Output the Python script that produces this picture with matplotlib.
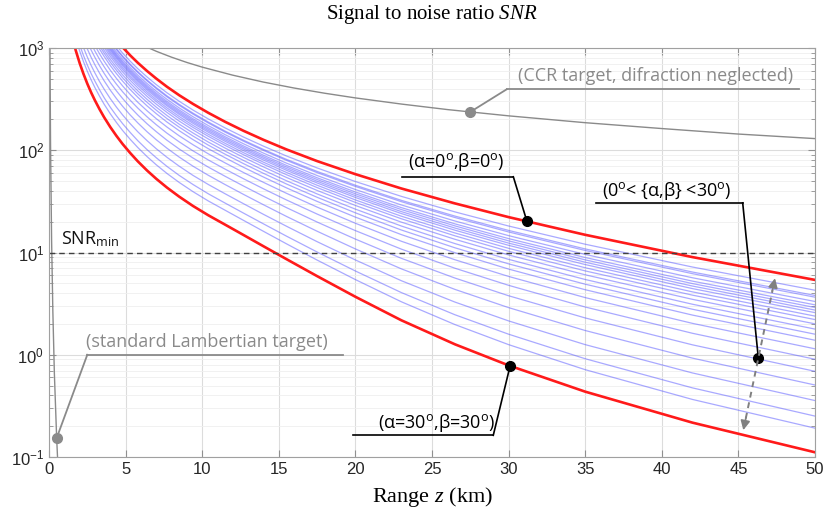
import matplotlib.pyplot as plt
import numpy as np

plt.rcParams['mathtext.fontset'] = 'custom'
plt.rcParams['mathtext.it'] = 'Liberation Serif:italic'
plt.rcParams['mathtext.rm'] = 'Liberation Serif'

# range samples (km)
red_z = [1.5, 1.75, 2, 2.25, 2.5, 2.75, 3, 3.3, 3.6, 4, 4.4, 4.8, 5.3, 5.8, 6.4, 7,
         7.7, 8.5, 9.4, 10.4, 11.5, 12.7, 14, 15.5, 17.5, 20, 23, 26.5, 30, 35, 42, 50]
blue_z = red_z[1:]

# red limit curves, read in decades (log10 SNR)
red_top_log = [3.915, 3.797, 3.694, 3.603, 3.522, 3.448, 3.380, 3.305, 3.237, 3.153,
               3.078, 3.008, 2.928, 2.855, 2.775, 2.701, 2.621, 2.538, 2.453, 2.366,
               2.278, 2.190, 2.102, 2.008, 1.894, 1.766, 1.626, 1.480, 1.346, 1.173,
               0.955, 0.732]
red_bot_log = [3.113, 2.974, 2.853, 2.747, 2.651, 2.565, 2.487, 2.401, 2.322, 2.227,
               2.141, 2.062, 1.973, 1.891, 1.802, 1.721, 1.635, 1.546, 1.455, 1.364,
               1.272, 1.171, 1.061, 0.935, 0.769, 0.567, 0.337, 0.102, -0.104, -0.361,
               -0.664, -0.954]

# 0 < {alpha, beta} < 30 deg, log10 SNR; each row ends at 50 km and starts
# at the last sample above the top of the plot
blue_log = [
    [3.022, 2.951, 2.871, 2.797, 2.717, 2.642, 2.562, 2.479, 2.393, 2.306, 2.218, 2.129,
     2.040, 1.944, 1.827, 1.694, 1.549, 1.397, 1.259, 1.081, 0.858, 0.631],
    [3.070, 2.994, 2.923, 2.842, 2.768, 2.687, 2.613, 2.532, 2.449, 2.363, 2.276, 2.187,
     2.098, 2.008, 1.911, 1.793, 1.658, 1.510, 1.356, 1.216, 1.035, 0.809, 0.580],
    [3.060, 2.984, 2.913, 2.832, 2.759, 2.678, 2.603, 2.522, 2.439, 2.353, 2.266, 2.177,
     2.088, 1.998, 1.901, 1.781, 1.646, 1.497, 1.342, 1.201, 1.020, 0.793, 0.563],
    [3.037, 2.961, 2.890, 2.809, 2.734, 2.653, 2.578, 2.498, 2.414, 2.328, 2.241, 2.152,
     2.063, 1.972, 1.874, 1.753, 1.616, 1.465, 1.308, 1.165, 0.981, 0.753, 0.521],
    [3.019, 2.942, 2.871, 2.790, 2.715, 2.634, 2.559, 2.478, 2.394, 2.308, 2.221, 2.132,
     2.042, 1.951, 1.852, 1.731, 1.592, 1.439, 1.280, 1.136, 0.951, 0.720, 0.488],
    [3.005, 2.928, 2.857, 2.775, 2.701, 2.619, 2.544, 2.463, 2.379, 2.293, 2.206, 2.117,
     2.027, 1.935, 1.836, 1.714, 1.574, 1.420, 1.260, 1.114, 0.928, 0.696, 0.462],
    [3.077, 2.991, 2.914, 2.842, 2.761, 2.686, 2.605, 2.530, 2.448, 2.364, 2.278, 2.191,
     2.102, 2.012, 1.920, 1.820, 1.697, 1.556, 1.400, 1.239, 1.092, 0.905, 0.672, 0.437],
    [3.063, 2.977, 2.900, 2.828, 2.747, 2.672, 2.590, 2.515, 2.434, 2.350, 2.263, 2.176,
     2.087, 1.996, 1.904, 1.804, 1.680, 1.538, 1.381, 1.218, 1.070, 0.882, 0.647, 0.412],
    [3.045, 2.959, 2.881, 2.809, 2.727, 2.653, 2.571, 2.495, 2.414, 2.330, 2.243, 2.156,
     2.067, 1.976, 1.883, 1.783, 1.658, 1.514, 1.355, 1.191, 1.041, 0.851, 0.615, 0.378],
    [3.027, 2.940, 2.862, 2.790, 2.708, 2.633, 2.551, 2.476, 2.394, 2.310, 2.223, 2.136,
     2.047, 1.956, 1.863, 1.761, 1.635, 1.490, 1.330, 1.163, 1.012, 0.820, 0.583, 0.344],
    [3.004, 2.917, 2.839, 2.767, 2.684, 2.609, 2.527, 2.451, 2.370, 2.285, 2.199, 2.110,
     2.021, 1.930, 1.837, 1.734, 1.607, 1.460, 1.297, 1.129, 0.976, 0.782, 0.542, 0.302],
    [3.047, 2.976, 2.889, 2.811, 2.738, 2.656, 2.580, 2.498, 2.422, 2.340, 2.255, 2.169,
     2.080, 1.991, 1.900, 1.805, 1.702, 1.573, 1.424, 1.259, 1.087, 0.933, 0.736, 0.494, 0.251],
    [3.020, 2.949, 2.861, 2.783, 2.710, 2.627, 2.551, 2.469, 2.392, 2.310, 2.226, 2.139,
     2.050, 1.961, 1.869, 1.774, 1.670, 1.540, 1.388, 1.220, 1.046, 0.889, 0.690, 0.445, 0.201],
    [3.067, 2.989, 2.917, 2.829, 2.750, 2.677, 2.594, 2.518, 2.434, 2.358, 2.276, 2.191,
     2.104, 2.015, 1.926, 1.833, 1.738, 1.632, 1.500, 1.346, 1.175, 0.998, 0.838, 0.636,
     0.388, 0.142],
    [3.023, 2.943, 2.871, 2.783, 2.703, 2.630, 2.546, 2.469, 2.386, 2.309, 2.227, 2.141,
     2.054, 1.965, 1.876, 1.782, 1.686, 1.579, 1.444, 1.286, 1.110, 0.929, 0.766, 0.559,
     0.307, 0.058],
    [3.042, 2.969, 2.889, 2.816, 2.727, 2.647, 2.573, 2.489, 2.412, 2.327, 2.250, 2.167,
     2.082, 1.994, 1.905, 1.815, 1.721, 1.623, 1.514, 1.376, 1.214, 1.033, 0.846, 0.679,
     0.467, 0.210, -0.044],
    [3.060, 2.980, 2.907, 2.826, 2.752, 2.662, 2.581, 2.507, 2.422, 2.344, 2.259, 2.182,
     2.098, 2.012, 1.924, 1.835, 1.745, 1.650, 1.550, 1.439, 1.298, 1.131, 0.943, 0.750,
     0.577, 0.360, 0.097, -0.162],
    [3.081, 2.991, 2.909, 2.835, 2.754, 2.679, 2.588, 2.506, 2.431, 2.345, 2.267, 2.181,
     2.103, 2.020, 1.933, 1.844, 1.755, 1.664, 1.568, 1.467, 1.353, 1.208, 1.035, 0.840,
     0.639, 0.461, 0.237, -0.033, -0.296],
    [3.004, 2.912, 2.830, 2.755, 2.672, 2.597, 2.505, 2.422, 2.346, 2.260, 2.180, 2.094,
     2.015, 1.931, 1.844, 1.754, 1.665, 1.574, 1.477, 1.373, 1.257, 1.106, 0.927, 0.724,
     0.515, 0.331, 0.099, -0.178, -0.448],
    [3.030, 2.927, 2.834, 2.750, 2.675, 2.591, 2.514, 2.421, 2.338, 2.261, 2.174, 2.093,
     2.006, 1.927, 1.842, 1.754, 1.665, 1.574, 1.483, 1.385, 1.280, 1.160, 1.005, 0.819,
     0.608, 0.391, 0.201, -0.039, -0.324, -0.600],
    [3.089, 2.971, 2.867, 2.773, 2.689, 2.612, 2.528, 2.450, 2.357, 2.272, 2.194, 2.107,
     2.026, 1.938, 1.858, 1.773, 1.685, 1.595, 1.504, 1.413, 1.314, 1.207, 1.085, 0.926,
     0.735, 0.518, 0.295, 0.099, -0.146, -0.437, -0.718],
]

# CCR target, diffraction neglected
ccr_z = [6, 7, 8, 9, 10, 12, 14, 16, 18, 20, 23, 26, 30, 35, 40, 45, 50]
ccr_snr = [1083, 929, 813, 722, 650, 542, 464, 406, 361, 325, 283, 250, 217, 186, 163, 144, 130]

# standard Lambertian target
lamb_z = [0.05, 0.1, 0.17, 0.25, 0.35, 0.5, 0.6]
lamb_snr = [1960, 115, 13, 2.7, 0.66, 0.153, 0.072]

snr_min = 10

gray = '#8a8a8a'
fig, ax = plt.subplots(figsize=(8.24, 5.17), dpi=100)
fig.subplots_adjust(left=49 / 824, right=815 / 824, bottom=60 / 517, top=469 / 517)

for row in blue_log:
    ax.plot(blue_z[len(blue_z) - len(row):], np.power(10.0, row),
            color=(0.33, 0.33, 1.0), alpha=0.5, lw=0.9)
ax.plot(red_z, np.power(10.0, red_top_log), color='#ff1a1a', lw=1.9)
ax.plot(red_z, np.power(10.0, red_bot_log), color='#ff1a1a', lw=1.9)
ax.plot(ccr_z, ccr_snr, color=gray, lw=1.0)
ax.plot(lamb_z, lamb_snr, color=gray, lw=1.0)
ax.axhline(snr_min, color='#404040', lw=1.0, ls=(0, (4, 3)))

ax.set_yscale('log')
ax.set_xlim(0, 50)
ax.set_ylim(0.1, 1000)
ax.set_xticks(np.arange(0, 51, 5))
ax.grid(True, which='major', color='#dcdcdc', lw=0.8)
ax.grid(True, which='minor', axis='y', color='#efefef', lw=0.6)
ax.set_axisbelow(True)
ax.tick_params(which='both', direction='in', top=True, right=True, color='#909090',
               labelcolor='#262626', labelsize=12)
ax.tick_params(which='major', length=5)
ax.tick_params(which='minor', length=3)
for lab in ax.get_xticklabels() + ax.get_yticklabels():
    lab.set_family('Liberation Sans')
for s in ax.spines.values():
    s.set_color('#a0a0a0')
    s.set_linewidth(0.8)

ann = dict(family=['Open Sans', 'DejaVu Sans'], fontsize=13)

# SNR_min label
ax.text(0.8, 10.8, r'SNR$_{\mathdefault{min}}$', color='#111111', ha='left', va='bottom', **ann)

# CCR callout
ax.plot([29.87, 48.95], [394, 394], color=gray, lw=1.3)
ax.plot([29.87, 27.5], [394, 237], color=gray, lw=1.3)
ax.plot(27.5, 237, 'o', color=gray, ms=7)
ax.text(39.6, 530, '(CCR target, difraction neglected)', color=gray, ha='center', va='center', **ann)

# Lambertian callout
ax.plot([2.5, 19.17], [1.0, 1.0], color=gray, lw=1.3)
ax.plot([2.5, 0.5], [1.0, 0.153], color=gray, lw=1.3)
ax.plot(0.5, 0.153, 'o', color=gray, ms=7)
ax.text(10.3, 1.34, '(standard Lambertian target)', color=gray, ha='center', va='center', **ann)

# alpha = beta = 0 callout
ax.plot([23.02, 30.31], [55, 55], color='black', lw=1.2)
ax.plot([30.31, 31.2], [55, 20.1], color='black', lw=1.2)
ax.plot(31.2, 20.1, 'o', color='black', ms=7)
ax.text(26.6, 76, '(α=0$^{\\mathdefault{o}}$,β=0$^{\\mathdefault{o}}$)', color='black',
        ha='center', va='center', **ann)

# alpha = beta = 30 callout
ax.plot([19.82, 29.0], [0.163, 0.163], color='black', lw=1.2)
ax.plot([29.0, 30.1], [0.163, 0.78], color='black', lw=1.2)
ax.plot(30.1, 0.78, 'o', color='black', ms=7)
ax.text(25.3, 0.216, '(α=30$^{\\mathdefault{o}}$,β=30$^{\\mathdefault{o}}$)', color='black',
        ha='center', va='center', **ann)

# intermediate angles callout
ax.plot([35.7, 45.28], [30.6, 30.6], color='black', lw=1.2)
ax.plot([45.28, 46.3], [30.6, 0.93], color='black', lw=1.2)
ax.plot(46.3, 0.93, 'o', color='black', ms=7)
ax.text(40.3, 40, '(0$^{\\mathdefault{o}}$< {α,β} <30$^{\\mathdefault{o}}$)', color='black',
        ha='center', va='center', **ann)

# dashed double arrow spanning the family
ax.plot([45.48, 47.23], [0.238, 4.29], color='#808080', lw=1.4, ls=(0, (3, 2.5)))
for tip, tail in [((45.32, 0.183), (45.50, 0.245)), ((47.39, 5.6), (47.21, 4.2))]:
    ax.annotate('', xy=tip, xytext=tail,
                arrowprops=dict(arrowstyle='-|>', color='#808080', lw=1.2,
                                mutation_scale=14, shrinkA=0, shrinkB=0))

ax.text(0.5, (457 - 15) / 409, r'Signal to noise ratio $SNR$', transform=ax.transAxes,
        family='Liberation Serif', fontsize=15, ha='center', va='center')
ax.set_xlabel(r'Range $z$ (km)', family='Liberation Serif', fontsize=16)
ax.xaxis.set_label_coords(0.5, (457 - 497) / 409)
ax.xaxis.label.set_va('center')

plt.savefig('out.png', dpi=100)
